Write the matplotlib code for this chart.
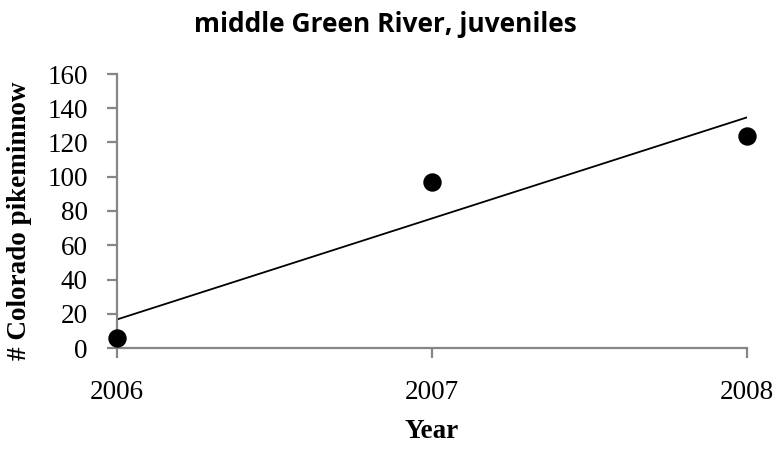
import numpy as np
import matplotlib
matplotlib.use("Agg")
import matplotlib.pyplot as plt

years = [2006, 2007, 2008]
counts = [6, 97, 124]
y_ticks = [0, 20, 40, 60, 80, 100, 120, 140, 160]

W, H = 775, 450
fig = plt.figure(figsize=(W / 100, H / 100), dpi=100)
ax = fig.add_axes([117 / W, 1 - 348 / H, (747 - 117) / W, (348 - 74) / H])

# Linear trendline through the yearly counts
slope, intercept = np.polyfit(years, counts, 1)
xs = np.array([years[0], years[-1]])
ax.plot(xs, slope * xs + intercept, color="black", lw=1.3, zorder=2)
ax.scatter(years, counts, s=150, color="black", zorder=3, clip_on=False)

ax.set_xlim(years[0], years[-1])
ax.set_ylim(0, 160)
ax.set_xticks(years)
ax.set_yticks(y_ticks)

serif = "Liberation Serif"
for lab in ax.get_xticklabels() + ax.get_yticklabels():
    lab.set_fontfamily(serif)
    lab.set_fontsize(19.5)

for s in ["top", "right"]:
    ax.spines[s].set_visible(False)
for s in ["left", "bottom"]:
    ax.spines[s].set_color("#868686")
    ax.spines[s].set_linewidth(1.6)
ax.tick_params(axis="both", colors="#868686", width=1.6, length=7, labelcolor="black")
ax.tick_params(axis="x", pad=16)
ax.tick_params(axis="y", pad=14)

fig.text(432 / W, 1 - 438 / H, "Year", ha="center", va="baseline",
         fontfamily=serif, fontweight="bold", fontsize=19.5)
fig.text(20 / W, 1 - 221 / H, "# Colorado pikeminnow", ha="center", va="center",
         rotation=90, fontfamily=serif, fontweight="bold", fontsize=19.5)
fig.text(385 / W, 1 - 32 / H, "middle Green River, juveniles", ha="center", va="baseline",
         fontfamily="Open Sans", fontweight="bold", fontsize=19)

fig.savefig("out.png", dpi=100)
